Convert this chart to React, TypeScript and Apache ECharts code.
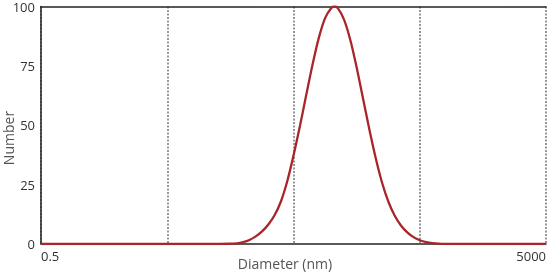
import React, { useEffect, useRef } from "react";
import * as echarts from "echarts";

// Diameter (nm) and Number (%)
const diameters = [
  0.5, 5, 10, 15.85, 17.78, 19.95, 22.39, 25.12, 28.18, 31.62, 35.48, 39.81, 44.67,
  50.12, 56.23, 63.1, 70.79, 79.43, 89.13, 100, 105.2, 112.2, 125.9, 141.3, 158.5,
  177.8, 199.5, 223.9, 251.2, 281.8, 316.2, 354.8, 398.1, 446.7, 501.2, 562.3,
  631.0, 707.9, 794.3, 1000, 5000,
];
const numbers = [
  0, 0, 0, 0.1, 0.3, 0.8, 1.7, 3.2, 5.3, 8.2, 12.2, 18.0, 26.5,
  37.5, 49.7, 62.8, 75.6, 86.9, 95.2, 99.5, 100, 99.3, 94.4, 85.7, 74.1,
  61.2, 48.2, 36.2, 25.9, 17.9, 12.0, 7.8, 4.9, 2.9, 1.6, 0.8,
  0.35, 0.12, 0.03, 0, 0,
];
const xMinNm = 0.5;
const xMaxNm = 5000;
const yTicks = [0, 25, 50, 75, 100];
const xTitle = "Diameter (nm)";
const yTitle = "Number";

const FONT = "'Open Sans', 'Noto Sans', sans-serif";

export default function App() {
  const ref = useRef<HTMLDivElement>(null);
  useEffect(() => {
    if (!ref.current) return;
    const chart = echarts.init(ref.current, undefined, { renderer: "svg" });
    const toX = (d: number) => Math.log10(d / xMinNm);
    const xMax = toX(xMaxNm);
    const data = diameters.map((d, i) => [toX(d), numbers[i]]);
    chart.setOption({
      animation: false,
      grid: { left: 41, right: 9, top: 6, bottom: 28, containLabel: false },
      xAxis: [
        {
          type: "value",
          min: 0,
          max: xMax,
          interval: 1,
          axisLine: { show: true, lineStyle: { color: "#222", width: 1.5 } },
          axisTick: { show: false },
          splitLine: {
            show: true,
            lineStyle: { color: "#777", type: [2, 1.5], width: 1.5 },
          },
          axisLabel: {
            fontFamily: FONT,
            fontSize: 13,
            color: "#333",
            margin: 5,
            alignMinLabel: "left",
            alignMaxLabel: "right",
            formatter: (v: number) => {
              if (Math.abs(v) < 1e-9) return String(xMinNm);
              if (Math.abs(v - xMax) < 1e-9) return String(xMaxNm);
              return "";
            },
          },
        },
        {
          type: "value",
          position: "top",
          min: 0,
          max: xMax,
          axisLine: { show: true, lineStyle: { color: "#222", width: 1.5 } },
          axisTick: { show: false },
          axisLabel: { show: false },
          splitLine: { show: false },
        },
      ],
      yAxis: {
        type: "value",
        min: yTicks[0],
        max: yTicks[yTicks.length - 1],
        interval: 25,
        axisLine: { show: true, lineStyle: { color: "#222", width: 1.5 } },
        axisTick: { show: false },
        splitLine: { show: false },
        axisLabel: {
          fontFamily: FONT,
          fontSize: 13,
          lineHeight: 12,
          color: "#333",
          margin: 6,
        },
      },
      graphic: [
        {
          type: "text",
          x: 285,
          y: 263,
          style: {
            text: xTitle,
            fontFamily: FONT,
            fontSize: 14,
            fill: "#555",
            align: "center",
            verticalAlign: "middle",
          },
        },
        {
          type: "text",
          x: 8,
          y: 138,
          rotation: Math.PI / 2,
          style: {
            text: yTitle,
            fontFamily: FONT,
            fontSize: 14,
            fill: "#555",
            align: "center",
            verticalAlign: "middle",
          },
        },
      ],
      series: [
        {
          type: "line",
          data,
          smooth: 0.3,
          symbol: "none",
          lineStyle: { color: "#a8262b", width: 2.3 },
          z: 5,
        },
      ],
    });
    return () => chart.dispose();
  }, []);
  return (
    <div
      ref={ref}
      style={{ position: "fixed", left: 0, top: 0, width: 555, height: 272 }}
    />
  );
}
